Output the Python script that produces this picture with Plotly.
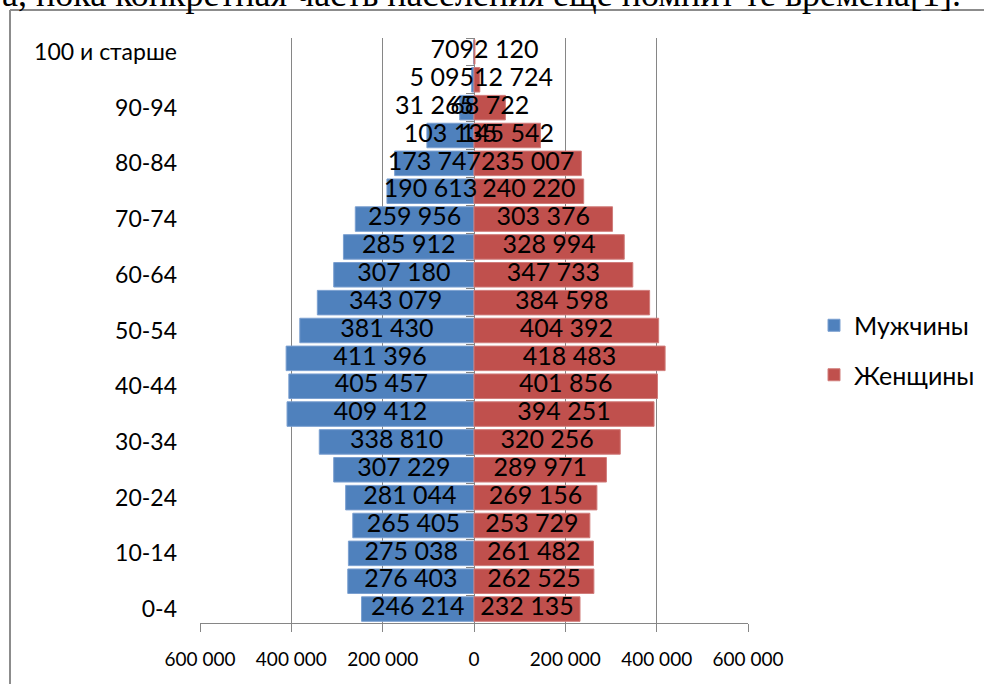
import plotly.graph_objects as go

# Age groups, youngest first
age_groups = ["0-4", "5-9", "10-14", "15-19", "20-24", "25-29", "30-34", "35-39",
              "40-44", "45-49", "50-54", "55-59", "60-64", "65-69", "70-74", "75-79",
              "80-84", "85-89", "90-94", "95-99", "100 и старше"]

men = [246214, 276403, 275038, 265405, 281044, 307229, 338810, 409412,
       405457, 411396, 381430, 343079, 307180, 285912, 259956, 190613,
       173747, 103135, 31265, 5095, 709]

women = [232135, 262525, 261482, 253729, 269156, 289971, 320256, 394251,
         401856, 418483, 404392, 384598, 347733, 328994, 303376, 240220,
         235007, 145542, 68722, 12724, 2120]

x_ticks = [-600000, -400000, -200000, 0, 200000, 400000, 600000]

BLUE = "#4F81BD"
RED = "#C0504D"
GRID = "#868686"
FONT = "Lato"

# page geometry (px)
W, H = 984, 684
ML, MR, MT, MB = 200, 236, 38, 61
PW, PH = W - ML - MR, H - MT - MB


def px_to_paper_x(px):
    return (px - ML) / PW


def px_to_paper_y(py):
    return (H - MB - py) / PH


def fmt(v):
    return f"{abs(v):,}".replace(",", " ")


pos = list(range(len(age_groups)))

fig = go.Figure()
fig.add_trace(go.Bar(
    y=pos, x=[-v for v in men], orientation="h", name="Мужчины",
    marker=dict(color=BLUE, line=dict(color="#7A9FD0", width=1)),
    legendgroup="m", hoverinfo="skip",
))
fig.add_trace(go.Bar(
    y=pos, x=women, orientation="h", name="Женщины",
    marker=dict(color=RED, line=dict(color="#D07C7A", width=1)),
    legendgroup="w", hoverinfo="skip",
))

# value labels: centred on the bar; very short bars get the label at the base
SMALL = 40000
m_x, m_pos = [], []
for v in men:
    if v < SMALL:
        m_x.append(0)
        m_pos.append("middle left")
    else:
        m_x.append(-v / 2)
        m_pos.append("middle center")
w_x, w_pos = [], []
for v in women:
    if v < SMALL:
        w_x.append(0)
        w_pos.append("middle right")
    else:
        w_x.append(v / 2)
        w_pos.append("middle center")

LABEL_FONT = dict(family=FONT, size=25, color="black")
fig.add_trace(go.Scatter(
    x=m_x, y=pos, mode="text", text=[fmt(v) for v in men], textposition=m_pos,
    textfont=LABEL_FONT, showlegend=False, hoverinfo="skip", cliponaxis=False,
))
fig.add_trace(go.Scatter(
    x=w_x, y=pos, mode="text", text=[fmt(v) for v in women], textposition=w_pos,
    textfont=LABEL_FONT, showlegend=False, hoverinfo="skip", cliponaxis=False,
))

# helper trace so the category-boundary tick axis at zero is rendered
fig.add_trace(go.Scatter(
    x=[0], y=[0], yaxis="y2", mode="markers", marker=dict(opacity=0),
    showlegend=False, hoverinfo="skip",
))

fig.update_layout(
    width=W, height=H,
    margin=dict(l=ML, r=MR, t=MT, b=MB, autoexpand=False),
    paper_bgcolor="white", plot_bgcolor="white",
    barmode="overlay", bargap=0.12,
    font=dict(family=FONT, color="black"),
    xaxis=dict(
        range=[x_ticks[0], x_ticks[-1]],
        tickmode="array", tickvals=x_ticks, ticktext=[fmt(v) for v in x_ticks],
        showgrid=True, gridcolor=GRID, gridwidth=1,
        zeroline=True, zerolinecolor=GRID, zerolinewidth=1,
        showline=True, linecolor=GRID, linewidth=1,
        ticks="outside", ticklen=8, tickcolor=GRID, tickwidth=1,
        tickfont=dict(family=FONT, size=19, color="black"),
        ticklabelstandoff=11, automargin=False,
        fixedrange=True,
    ),
    yaxis=dict(
        range=[-0.5, len(age_groups) - 0.5],
        tickmode="array", tickvals=pos[::2], ticktext=age_groups[::2],
        showgrid=False, zeroline=False, showline=False, ticks="",
        tickfont=dict(family=FONT, size=23, color="black"),
        ticklabelstandoff=22, automargin=False,
        fixedrange=True,
    ),
    yaxis2=dict(
        overlaying="y", anchor="free", position=0.5, side="left",
        range=[-0.5, len(age_groups) - 0.5],
        tickmode="array", tickvals=[p - 0.5 for p in pos] + [pos[-1] + 0.5],
        ticks="outside", ticklen=8, tickcolor=GRID, tickwidth=1,
        showticklabels=False, showgrid=False, zeroline=False, showline=False,
        fixedrange=True,
    ),
    legend=dict(
        x=px_to_paper_x(814), y=px_to_paper_y(350), xanchor="left", yanchor="middle",
        font=dict(family=FONT, size=25, color="black"),
        traceorder="grouped", tracegroupgap=14,
        bgcolor="rgba(0,0,0,0)",
    ),
    showlegend=True,
)

# surrounding document frame
fig.add_shape(type="line", xref="paper", yref="paper",
              x0=px_to_paper_x(10), x1=px_to_paper_x(10),
              y0=px_to_paper_y(10), y1=px_to_paper_y(H + 10),
              line=dict(color="#8C8C8C", width=2))
fig.add_shape(type="line", xref="paper", yref="paper",
              x0=px_to_paper_x(10), x1=px_to_paper_x(W + 10),
              y0=px_to_paper_y(10), y1=px_to_paper_y(10),
              line=dict(color="#8C8C8C", width=2))

# line of document text running above the chart
fig.add_annotation(
    text="а, пока конкретная часть населения еще помнит те времена[1].",
    xref="paper", yref="paper", x=px_to_paper_x(0), y=px_to_paper_y(-6),
    xanchor="left", yanchor="middle", showarrow=False,
    font=dict(family="Liberation Serif", size=36, color="black"),
)

fig.write_html("out.html")
